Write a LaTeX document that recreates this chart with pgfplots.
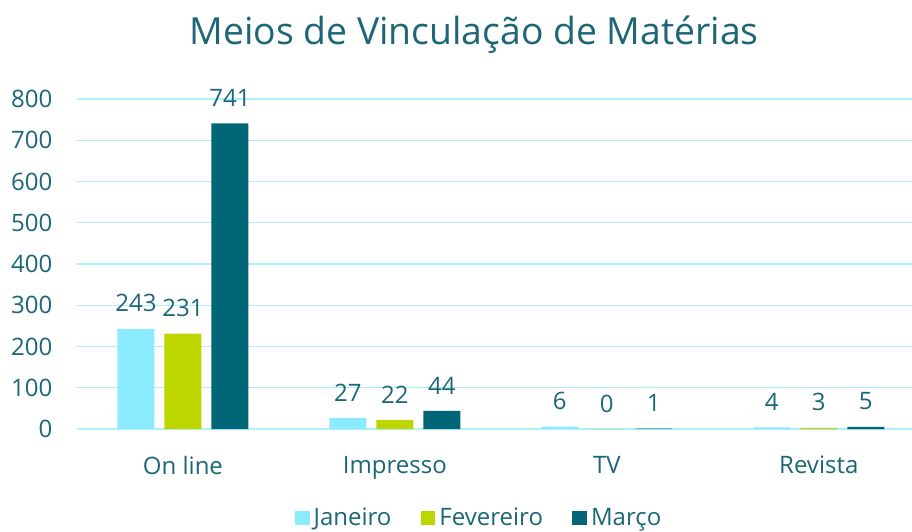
\documentclass[border=0pt]{standalone}
\usepackage{pgfplots}
\pgfplotsset{compat=1.18}
\usepackage{fontspec}
\setmainfont{Open Sans}
\definecolor{jan}{HTML}{8BEBFF}
\definecolor{fev}{HTML}{BDD600}
\definecolor{mar}{HTML}{006577}
\definecolor{txt}{HTML}{1C6675}
\definecolor{grd}{HTML}{B0F0FA}
\begin{document}
\begin{tikzpicture}
\path[use as bounding box] (0,0) rectangle (684pt,398.25pt);
\node[text=txt,font=\fontsize{28}{33}\selectfont] at (355.5pt,372.5pt) {Meios de Vinculação de Matérias};
\begin{axis}[
  at={(57.75pt,76.5pt)}, anchor=south west,
  scale only axis, width=626.25pt, height=247.5pt,
  ybar=7.5pt, bar width=27.75pt,
  xmin=-0.5, xmax=3.44, ymin=0, ymax=800,
  xtick={0,1,2,3}, xticklabels={On line,Impresso,TV,Revista},
  ytick={0,100,...,800},
  axis line style={draw=none},
  major tick length=0pt,
  ymajorgrids, grid style={grd, line width=0.9pt},
  tick label style={text=txt, font=\fontsize{18}{22}\selectfont},
  /pgf/number format/assume math mode=true,
  yticklabel style={xshift=-15pt},
  xticklabel style={yshift=-17pt},
  nodes near coords,
  nodes near coords style={text=txt, font=\fontsize{18}{22}\selectfont, yshift=9pt},
  every node near coord/.append style={/pgf/number format/assume math mode=true},
  clip=false,
  legend style={at={(0.482,-0.27)}, anchor=center, draw=none, fill=none,
    legend columns=-1, font=\fontsize{18}{22}\selectfont, text=txt,
    /tikz/every odd column/.append style={column sep=1pt},
    /tikz/every even column/.append style={column sep=20pt}},
  legend image code/.code={\fill[#1] (0pt,-5.5pt) rectangle (11pt,5.5pt);},
]
\addplot[fill=jan, draw=none] coordinates {(0,243) (1,27) (2,6) (3,4)};
\addplot[fill=fev, draw=none] coordinates {(0,231) (1,22) (2,0) (3,3)};
\addplot[fill=mar, draw=none] coordinates {(0,741) (1,44) (2,1) (3,5)};
\legend{Janeiro,Fevereiro,Março}
\end{axis}
\end{tikzpicture}
\end{document}
